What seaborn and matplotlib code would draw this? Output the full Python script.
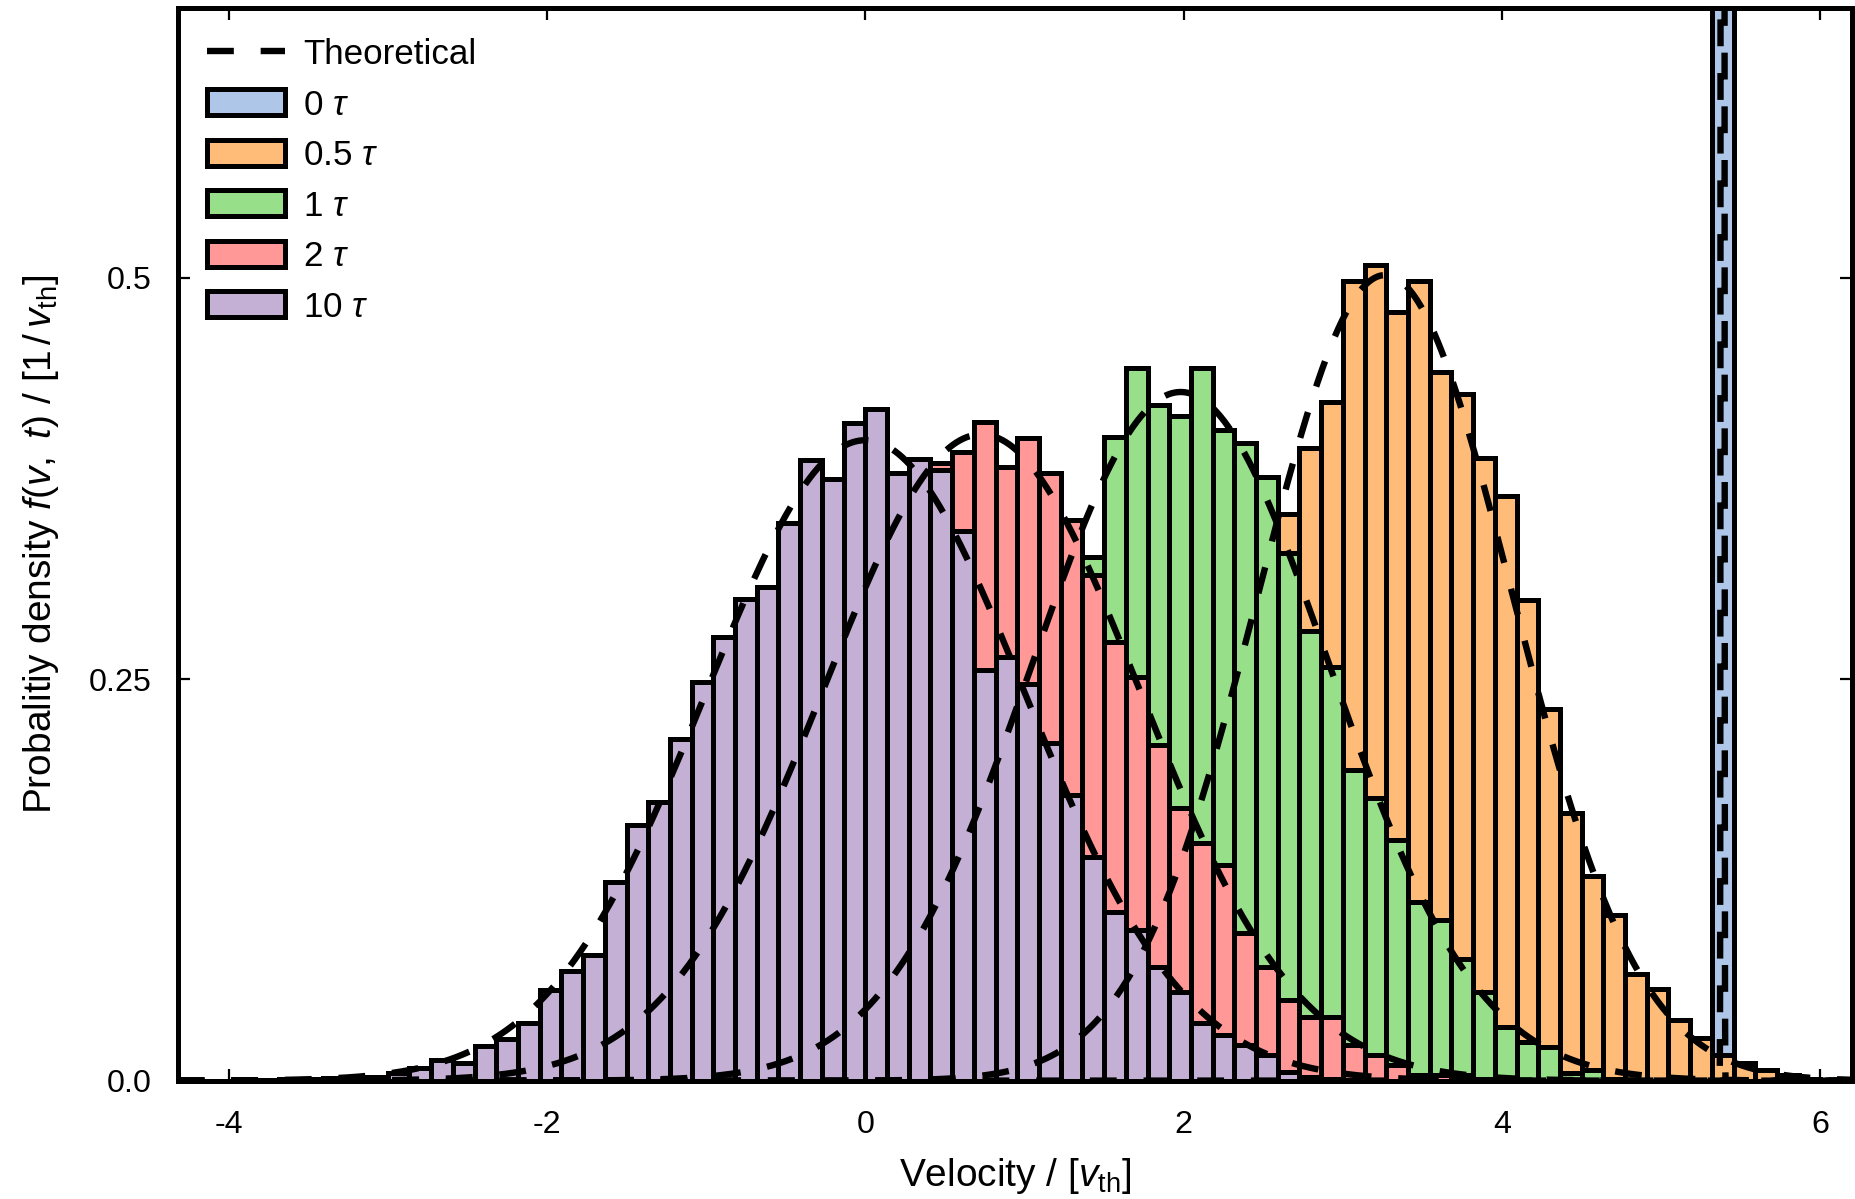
import numpy as np
import matplotlib
matplotlib.use("Agg")
import matplotlib.pyplot as plt
from matplotlib.lines import Line2D
from matplotlib.patches import Patch
import seaborn as sns

# common velocity binning: bin k covers [k * bin_width, (k + 1) * bin_width]
bin_width = 3 / 22

labels = ["0 $\\tau$", "0.5 $\\tau$", "1 $\\tau$", "2 $\\tau$", "10 $\\tau$"]
colors = ["#aec7e8", "#ffbb78", "#98df8a", "#ff9896", "#c5b0d5"]

# index of the first bin of each histogram
first_bin = [39, 6, -9, -20, -29]

# probability density per bin
dens_0 = [7.33]

dens_05 = [
    0.001, 0.002, 0.004, 0.008, 0.015, 0.027, 0.045, 0.068, 0.100, 0.145,
    0.195, 0.250, 0.300, 0.3531, 0.3940, 0.4230, 0.4980, 0.5078, 0.4785,
    0.4984, 0.4417, 0.4279, 0.3878, 0.3643, 0.2991, 0.2314, 0.1666, 0.1275,
    0.1032, 0.0665, 0.0568, 0.0378, 0.0264, 0.0160, 0.0113, 0.0067, 0.0036,
    0.0010, 0.0005,
]

dens_1 = [
    0.001, 0.002, 0.003, 0.005, 0.008, 0.013, 0.019, 0.027, 0.038, 0.051,
    0.069, 0.091, 0.116, 0.146, 0.179, 0.215, 0.250, 0.280, 0.300, 0.3265,
    0.4009, 0.4438, 0.4210, 0.4141, 0.4438, 0.4050, 0.3971, 0.3760, 0.3286,
    0.2798, 0.2579, 0.1936, 0.1760, 0.1500, 0.1110, 0.1000, 0.0756, 0.0555,
    0.0336, 0.0243, 0.0212, 0.0046, 0.0067, 0.0010, 0.0005,
]

dens_2 = [
    0.001, 0.0015, 0.0025, 0.004, 0.006, 0.009, 0.013, 0.019, 0.029, 0.037,
    0.047, 0.065, 0.087, 0.106, 0.129, 0.160, 0.195, 0.224, 0.255, 0.291,
    0.318, 0.345, 0.370, 0.3847, 0.3919, 0.4100, 0.3822, 0.4003, 0.3784,
    0.3493, 0.3151, 0.2735, 0.2517, 0.2090, 0.1700, 0.1479, 0.1344, 0.0918,
    0.0710, 0.0503, 0.0399, 0.0399, 0.0222, 0.0160, 0.0098, 0.0036, 0.0036,
    0.0036, 0.0010, 0.0005,
]

dens_10 = [
    0.0005, 0.0007, 0.0008, 0.0010, 0.0015, 0.0015, 0.0025, 0.0050, 0.0077,
    0.0129, 0.0108, 0.0218, 0.0258, 0.0357, 0.0565, 0.0685, 0.0783, 0.1240,
    0.1590, 0.1734, 0.2127, 0.2486, 0.2763, 0.2999, 0.3078, 0.3473, 0.3867,
    0.3749, 0.4096, 0.4183, 0.3788, 0.3874, 0.3801, 0.3421, 0.2559, 0.2642,
    0.2472, 0.2102, 0.1780, 0.1396, 0.1053, 0.0939, 0.0706, 0.0551, 0.0361,
    0.0285, 0.0222, 0.0160, 0.0056, 0.0020, 0.0010, 0.0005,
]

densities = [dens_0, dens_05, dens_1, dens_2, dens_10]

# theoretical Maxwellian (Gaussian) for each time: mean and width
theory_mean = [5.385, 3.266, 1.981, 0.729, 0.000]
theory_std = [0.004, 0.795, 0.930, 0.991, 1.000]

sns.set_style("ticks", rc={"axes.edgecolor": "black", "text.color": "black",
                           "axes.labelcolor": "black", "xtick.color": "black",
                           "ytick.color": "black"})
plt.rcParams["font.family"] = ["Liberation Sans", "DejaVu Sans"]
plt.rcParams["mathtext.fontset"] = "custom"
plt.rcParams["mathtext.rm"] = "Liberation Sans"
plt.rcParams["mathtext.it"] = "Liberation Sans:italic"
plt.rcParams["mathtext.bf"] = "Liberation Sans:bold"
plt.rcParams["mathtext.sf"] = "Liberation Sans"

edge_lw = 1.8
curve_lw = 2.3

fig, ax = plt.subplots(figsize=(9.28, 5.995), dpi=200)
fig.subplots_adjust(left=0.0957, right=0.998, bottom=0.0987, top=0.9931)

for first, dens, color in zip(first_bin, densities, colors):
    k = np.arange(first, first + len(dens))
    centers = (k + 0.5) * bin_width
    lo = first * bin_width
    hi = (first + len(dens)) * bin_width - 1e-9
    sns.histplot(x=list(centers), weights=list(dens), binwidth=bin_width,
                 binrange=(lo, hi), ax=ax, color=color, alpha=1,
                 edgecolor="black", linewidth=edge_lw)

dash = (0, (4.2, 4.2))
v = np.linspace(-4.5, 6.5, 22001)
for mu, sd in zip(theory_mean, theory_std):
    pdf = np.exp(-0.5 * ((v - mu) / sd) ** 2) / (sd * np.sqrt(2 * np.pi))
    sns.lineplot(x=v, y=pdf, ax=ax, color="black", linewidth=curve_lw,
                 linestyle=dash, estimator=None, sort=False, legend=False)

ax.set_xlim(-4.32, 6.2)
ax.set_ylim(0, 0.668)
ax.set_xticks([-4, -2, 0, 2, 4, 6])
ax.set_xticklabels(["-4", "-2", "0", "2", "4", "6"])
ax.set_yticks([0, 0.25, 0.5])
ax.set_yticklabels(["0.0", "0.25", "0.5"])
ax.tick_params(axis="both", direction="in", top=True, right=True,
               length=4.3, width=0.8, labelsize=11.6)
ax.tick_params(axis="x", pad=10.5)
ax.tick_params(axis="y", pad=9.5)
for side in ax.spines.values():
    side.set_linewidth(1.8)
    side.set_color("black")

ax.set_xlabel("Velocity / $[v_\\mathrm{th}]$", fontsize=14, labelpad=6)
ax.set_ylabel("Probalitiy density $f(v,\\ t)$ / $[1\\,/\\,v_\\mathrm{th}]$",
              fontsize=14, labelpad=10)

handles = [Line2D([], [], color="black", linewidth=curve_lw, linestyle=dash)]
handles += [Patch(facecolor=c, edgecolor="black", linewidth=edge_lw)
            for c in colors]
ax.legend(handles, ["Theoretical"] + labels, loc="upper left",
          frameon=False, fontsize=12.6, handlelength=2.23, handleheight=0.76,
          handletextpad=0.5, labelspacing=0.5, borderaxespad=0.45,
          borderpad=0.4)

fig.savefig("out.png", dpi=200)
